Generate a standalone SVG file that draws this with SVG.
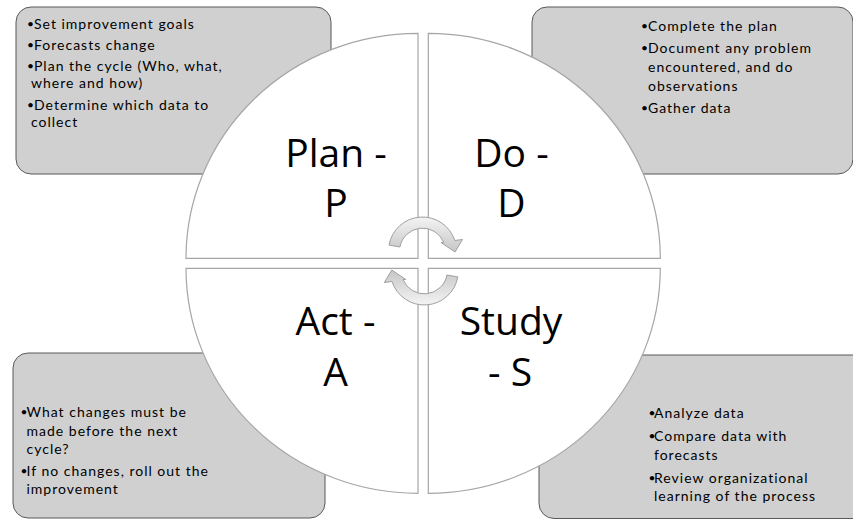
<svg xmlns="http://www.w3.org/2000/svg" width="853" height="519" viewBox="0 0 853 519">
<style>
.box{fill:#d0d0d0;stroke:#595959;stroke-width:1}
.quad{fill:#ffffff;stroke:#a6a6a6;stroke-width:1.2}
.t{font-family:Lato,"Open Sans",sans-serif;font-size:14px;letter-spacing:1px;fill:#000}
.b{font-family:Lato,"Open Sans",sans-serif;font-size:12px;letter-spacing:0;fill:#000}
.big{font-family:"Open Sans","Noto Sans",sans-serif;font-size:39px;fill:#000;text-anchor:middle}
.arr{fill:url(#ag);stroke:#a0a0a0;stroke-width:1}
</style>
<defs>
<linearGradient id="ag" x1="0" y1="0" x2="0" y2="1">
<stop offset="0" stop-color="#f4f4f4"/>
<stop offset="1" stop-color="#c6c6c6"/>
</linearGradient>
</defs>
<rect width="853" height="519" fill="#ffffff"/>
<g id="box-plan">
<rect class="box" x="16" y="7" width="315" height="167" rx="15"/>
<text class="b" x="27" y="28">•</text><text class="t" x="34" y="29">Set improvement goals</text>
<text class="b" x="27" y="49">•</text><text class="t" x="34" y="50">Forecasts change</text>
<text class="b" x="27" y="70">•</text><text class="t" x="34" y="71">Plan the cycle (Who, what,</text>
<text class="t" x="31" y="88">where and how)</text>
<text class="b" x="27" y="109">•</text><text class="t" x="34" y="110">Determine which data to</text>
<text class="t" x="31" y="127">collect</text>
</g>
<g id="box-do">
<rect class="box" x="532" y="7" width="321" height="167" rx="15"/>
<text class="b" x="641" y="29.5">•</text><text class="t" x="648" y="30.5">Complete the plan</text>
<text class="b" x="641" y="52">•</text><text class="t" x="648" y="53">Document any problem</text>
<text class="t" x="648" y="72">encountered, and do</text>
<text class="t" x="648" y="91">observations</text>
<text class="b" x="641" y="112">•</text><text class="t" x="648" y="113">Gather data</text>
</g>
<g id="box-act">
<rect class="box" x="13" y="353" width="312" height="165" rx="15"/>
<text class="b" x="20.5" y="416">•</text><text class="t" x="26.5" y="417">What changes must be</text>
<text class="t" x="26.5" y="435.5">made before the next</text>
<text class="t" x="26.5" y="454">cycle?</text>
<text class="b" x="20.5" y="474.5">•</text><text class="t" x="26.5" y="475.5">If no changes, roll out the</text>
<text class="t" x="26.5" y="494">improvement</text>
</g>
<g id="box-study">
<rect class="box" x="539" y="355" width="330" height="163.5" rx="15"/>
<text class="b" x="648.5" y="417">•</text><text class="t" x="654" y="418">Analyze data</text>
<text class="b" x="648.5" y="440">•</text><text class="t" x="654" y="441">Compare data with</text>
<text class="t" x="654" y="459.5">forecasts</text>
<text class="b" x="648.5" y="481.5">•</text><text class="t" x="654" y="482.5">Review organizational</text>
<text class="t" x="654" y="501">learning of the process</text>
</g>
<g id="plan">
<path class="quad" d="M418,258.3 L186,258.3 A232,225 0 0 1 418,33.3 Z"/>
<text class="big" x="336" y="166.5">Plan -</text>
<text class="big" x="336" y="216.5">P</text>
</g>
<g id="do">
<path class="quad" d="M428.3,258.3 L428.3,33.3 A232,225 0 0 1 660.3,258.3 Z"/>
<text class="big" x="511.5" y="166.5">Do -</text>
<text class="big" x="511.5" y="216.5">D</text>
</g>
<g id="study">
<path class="quad" d="M428.3,268.3 L660.3,268.3 A232,225 0 0 1 428.3,493.3 Z"/>
<text class="big" x="511" y="335">Study</text>
<text class="big" x="510" y="385.5">- S</text>
</g>
<g id="act">
<path class="quad" d="M418,268.3 L418,493.3 A232,225 0 0 1 186,268.3 Z"/>
<text class="big" x="335.5" y="335">Act -</text>
<text class="big" x="335.5" y="385.5">A</text>
</g>
<g id="connectors">
<path class="arr" d="M389,245.1 A34,34 0 0 1 454.8,240.5 L462.5,239.5 L455,252 L441,242.5 L443.8,242.4 A23,23 0 0 0 399.9,247 Z"/>
<path class="arr" transform="rotate(180 423.4 261)" d="M389,245.1 A34,34 0 0 1 454.8,240.5 L462.5,239.5 L455,252 L441,242.5 L443.8,242.4 A23,23 0 0 0 399.9,247 Z"/>
</g>
</svg>
